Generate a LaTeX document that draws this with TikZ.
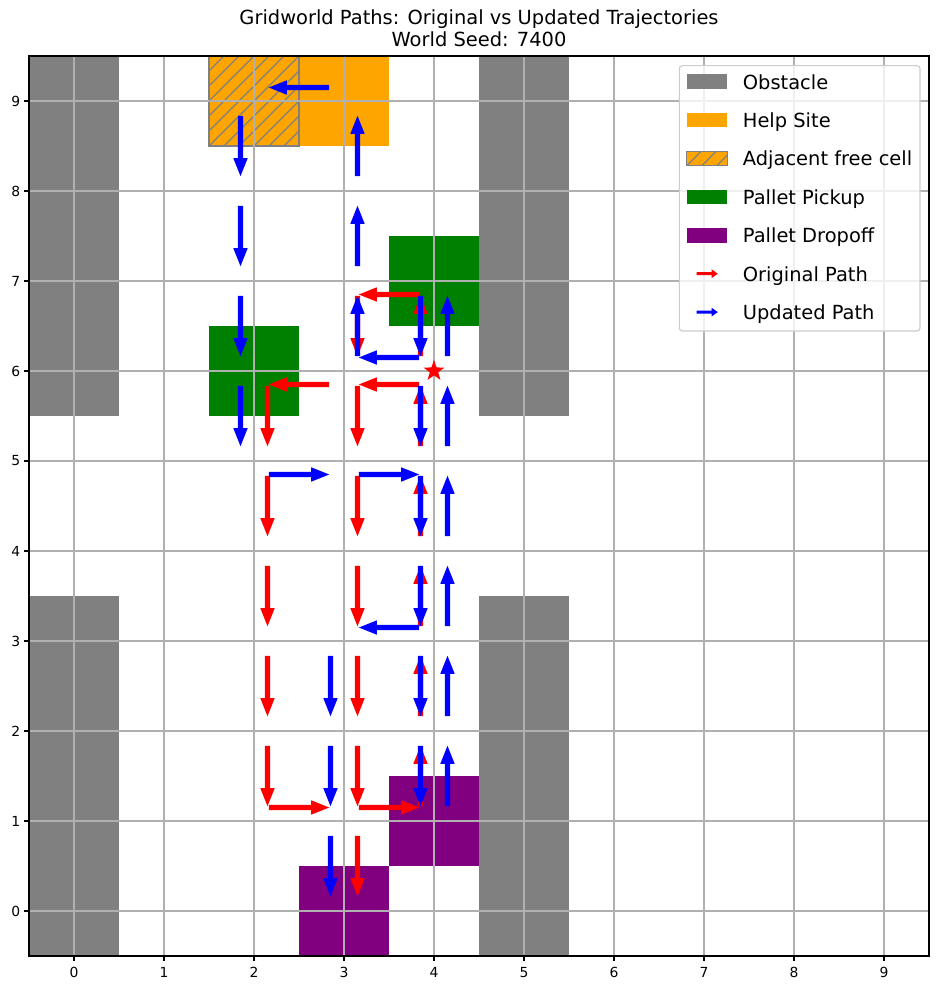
\documentclass[tikz,border=0pt]{standalone}
\usepackage{fontspec}
\setmainfont{DejaVu Sans}
\usetikzlibrary{shapes.geometric}
\definecolor{obst}{HTML}{808080}
\definecolor{helpc}{HTML}{FFA500}
\definecolor{pick}{HTML}{008000}
\definecolor{drop}{HTML}{800080}
\definecolor{gridc}{HTML}{B0B0B0}
\definecolor{legedge}{HTML}{CCCCCC}
\newcommand\qarr[6]{%
 \pgfmathsetmacro\qdX{#4-#2}\pgfmathsetmacro\qdY{#5-#3}%
 \pgfmathsetmacro\qoX{#6*0.15*(-\qdY)}\pgfmathsetmacro\qoY{#6*0.15*\qdX}%
 \pgfmathsetmacro\qsX{#2+\qoX+0.165*\qdX}\pgfmathsetmacro\qsY{#3+\qoY+0.165*\qdY}%
 \pgfmathsetmacro\qeX{#4+\qoX-0.165*\qdX}\pgfmathsetmacro\qeY{#5+\qoY-0.165*\qdY}%
 \pgfmathsetmacro\qbX{\qeX-0.2*\qdX}\pgfmathsetmacro\qbY{\qeY-0.2*\qdY}%
 \pgfmathsetmacro\qpX{-\qdY}\pgfmathsetmacro\qpY{\qdX}%
 \fill[#1] ({\qsX+(\qpX)*0.028},{\qsY+(\qpY)*0.028}) -- ({\qbX+(\qpX)*0.028},{\qbY+(\qpY)*0.028})
   -- ({\qbX+(\qpX)*0.08},{\qbY+(\qpY)*0.08}) -- (\qeX,\qeY)
   -- ({\qbX-(\qpX)*0.08},{\qbY-(\qpY)*0.08}) -- ({\qbX-(\qpX)*0.028},{\qbY-(\qpY)*0.028})
   -- ({\qsX-(\qpX)*0.028},{\qsY-(\qpY)*0.028}) -- cycle;%
}
\tikzset{
  gridline/.style={draw=gridc, line width=1.1pt},
  hatchline/.style={draw=obst, line width=1.2pt},
  ticklabel/.style={font=\fontsize{13.9}{16}\selectfont, inner sep=0pt},
  titletext/.style={font=\fontsize{19.44}{23}\selectfont, inner sep=0pt, anchor=base},
  legtext/.style={font=\fontsize{19.44}{23}\selectfont, inner sep=0pt, anchor=base west},
}
\begin{document}
\begin{tikzpicture}[x=1pt,y=-1pt]
\useasboundingbox (0,0) rectangle (939,990);
\fill[white] (0,0) rectangle (939,990);
% title
\node[titletext] (title1) at (479,25) {Gridworld Paths: Original vs Updated Trajectories};
\node[titletext] (title2) at (479,46.7) {World Seed: 7400};
\begin{scope}[shift={(74,911)}, x=90pt, y=90pt]
  % obstacles
  \fill[obst] (-0.5,5.5) rectangle (0.5,9.5);
  \fill[obst] (-0.5,-0.5) rectangle (0.5,3.5);
  \fill[obst] (4.5,5.5) rectangle (5.5,9.5);
  \fill[obst] (4.5,-0.5) rectangle (5.5,3.5);
  % help site
  \fill[helpc] (2.5,8.5) rectangle (3.5,9.5);
  % adjacent free cell (hatched)
  \fill[helpc] (1.5,8.5) rectangle (2.5,9.5);
  \begin{scope}
    \clip (1.5,8.5) rectangle (2.5,9.5);
    \foreach \k in {-7,...,7} \draw[hatchline] ({1.5+\k/6},8.5) -- ++(1,1);
  \end{scope}
  \draw[obst, line width=1.2pt] (1.5,8.5) rectangle (2.5,9.5);
  % pickups
  \fill[pick] (3.5,6.5) rectangle (4.5,7.5);
  \fill[pick] (1.5,5.5) rectangle (2.5,6.5);
  % dropoffs
  \fill[drop] (3.5,0.5) rectangle (4.5,1.5);
  \fill[drop] (2.5,-0.5) rectangle (3.5,0.5);
  % grid
  \foreach \k in {0,...,9} {
    \draw[gridline] (\k,-0.5) -- (\k,9.5);
    \draw[gridline] (-0.5,\k) -- (9.5,\k);
  }
  % original path (red)
  \foreach \a/\b/\c/\d in {4/7/3/7, 3/7/3/6, 4/6/4/7, 4/6/3/6, 3/6/2/6,
      4/5/4/6, 4/4/4/5, 4/3/4/4, 4/2/4/3, 4/1/4/2,
      3/6/3/5, 3/5/3/4, 3/4/3/3, 3/3/3/2, 3/2/3/1, 3/1/3/0, 3/1/4/1,
      2/6/2/5, 2/5/2/4, 2/4/2/3, 2/3/2/2, 2/2/2/1, 2/1/3/1}
    {\qarr{red}{\a}{\b}{\c}{\d}{1}}
  % updated path (blue)
  \foreach \a/\b/\c/\d in {3/9/2/9, 2/9/2/8, 2/8/2/7, 2/7/2/6, 2/6/2/5, 2/5/3/5, 3/5/4/5,
      4/7/4/6, 4/6/4/5, 4/5/4/4, 4/4/4/3, 4/3/4/2, 4/2/4/1,
      4/1/4/2, 4/2/4/3, 4/3/4/4, 4/4/4/5, 4/5/4/6, 4/6/4/7,
      4/6/3/6, 3/6/3/7, 3/7/3/8, 3/8/3/9,
      4/3/3/3, 3/3/3/2, 3/2/3/1, 3/1/3/0}
    {\qarr{blue}{\a}{\b}{\c}{\d}{-1}}
  % start star
  \node[star, star points=5, star point ratio=2.5, minimum size=22pt, inner sep=0pt, fill=red] (start) at (4,6) {};
  % frame
  \draw[black, line width=1.1pt] (-0.5,-0.5) rectangle (9.5,9.5);
  % ticks
  \foreach \k in {0,...,9} {
    \draw[black, line width=1.1pt] (\k,-0.5) -- ++(0,-4.9pt);
    \draw[black, line width=1.1pt] (-0.5,\k) -- ++(-4.9pt,0);
  }
\end{scope}
% tick labels
\foreach \k in {0,...,9} {
  \node[ticklabel, anchor=base] (xl\k) at ({74+90*\k},977.3) {\k};
  \node[ticklabel, anchor=east] (yl\k) at (20.5,{911-90*\k}) {\k};
}
% legend
\draw[legedge, line width=1.1pt, fill=white, fill opacity=0.8, rounded corners=3pt] (679.3,65.7) rectangle (920,331);
\fill[obst] (686.7,74.4) rectangle (727.3,89.0);
\node[legtext] (lg1) at (742.7,89.0) {Obstacle};
\fill[helpc] (686.7,112.8) rectangle (727.3,127.4);
\node[legtext] (lg2) at (742.7,127.4) {Help Site};
\fill[helpc] (686.7,151.2) rectangle (727.3,165.8);
\begin{scope}
  \clip (686.7,151.2) rectangle (727.3,165.8);
  \foreach \k in {-2,...,4} \draw[hatchline] ({686.7+15*\k},165.8) -- ++(20,-20);
\end{scope}
\draw[obst, line width=1.2pt] (686.7,151.2) rectangle (727.3,165.8);
\node[legtext] (lg3) at (742.7,165.8) {Adjacent free cell};
\fill[pick] (686.7,189.6) rectangle (727.3,204.2);
\node[legtext] (lg4) at (742.7,204.2) {Pallet Pickup};
\fill[drop] (686.7,228.0) rectangle (727.3,242.6);
\node[legtext] (lg5) at (742.7,242.6) {Pallet Dropoff};
\fill[red] (696.7,272.2) -- (711.7,272.2) -- (711.7,269.4) -- (717.8,273.7) -- (711.7,278.0) -- (711.7,275.2) -- (696.7,275.2) -- cycle;
\node[legtext] (lg6) at (742.7,281.0) {Original Path};
\fill[blue] (696.7,310.6) -- (711.7,310.6) -- (711.7,307.8) -- (717.8,312.1) -- (711.7,316.4) -- (711.7,313.6) -- (696.7,313.6) -- cycle;
\node[legtext] (lg7) at (742.7,319.4) {Updated Path};
\end{tikzpicture}
\end{document}
